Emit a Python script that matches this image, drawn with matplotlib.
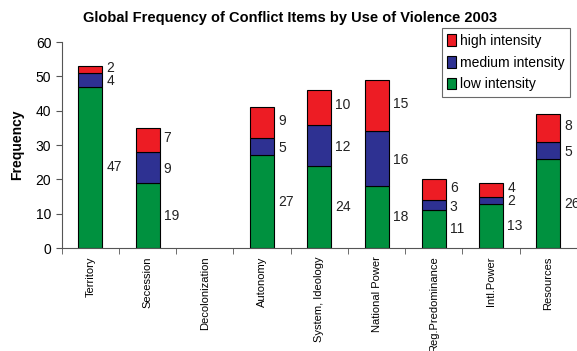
import numpy as np
import matplotlib
matplotlib.use("Agg")
import matplotlib.pyplot as plt
from matplotlib.ticker import FixedLocator

plt.rcParams['font.family'] = ['Liberation Sans', 'DejaVu Sans']

# conflict items 2003
categories = ["Territory", "Secession", "Decolonization", "Autonomy",
              "System, Ideology", "National Power", "Reg.Predominance",
              "Intl.Power", "Resources"]
low = [47, 19, 0, 27, 24, 18, 11, 13, 26]
medium = [4, 9, 0, 5, 12, 16, 3, 2, 5]
high = [2, 7, 0, 9, 10, 15, 6, 4, 8]

c_low = "#00913F"
c_med = "#2E3192"
c_high = "#ED1C24"

fig = plt.figure(figsize=(5.77, 3.51), dpi=100)
ax = fig.add_axes([0.107, 0.293, 0.893, 0.587])

x = np.arange(len(categories))
w = 0.42
low_a = np.array(low)
med_a = np.array(medium)
high_a = np.array(high)
shown = (low_a + med_a + high_a) > 0

ax.bar(x[shown], low_a[shown], w, color=c_low, edgecolor="black", linewidth=0.8,
       label="low intensity")
ax.bar(x[shown], med_a[shown], w, bottom=low_a[shown], color=c_med, edgecolor="black",
       linewidth=0.8, label="medium intensity")
ax.bar(x[shown], high_a[shown], w, bottom=(low_a + med_a)[shown], color=c_high,
       edgecolor="black", linewidth=0.8, label="high intensity")

# value labels to the right of each segment
for i in range(len(categories)):
    if not shown[i]:
        continue
    xt = x[i] + w / 2 + 0.07
    ax.text(xt, low[i] / 2, str(low[i]), va="center", ha="left", fontsize=10, color="#222222")
    ax.text(xt, low[i] + medium[i] / 2 - 0.4, str(medium[i]), va="center", ha="left",
            fontsize=10, color="#222222")
    ax.text(xt, low[i] + medium[i] + high[i] / 2 + 0.6, str(high[i]), va="center", ha="left",
            fontsize=10, color="#222222")

ax.set_xlim(-0.5, len(categories) - 0.5)
ax.set_ylim(0, 60)
ax.set_yticks(range(0, 61, 10))
ax.set_xticks(x)
ax.set_xticklabels(categories, rotation=90, fontsize=8, va="top")
ax.xaxis.set_minor_locator(FixedLocator(np.arange(-0.5, len(categories), 1.0)))
ax.tick_params(axis="x", which="major", length=0, pad=6)
ax.tick_params(axis="x", which="minor", length=4, color="#555555", direction="out")
ax.tick_params(axis="y", labelsize=10, length=4, color="#555555", direction="out")

for s in ["top", "right"]:
    ax.spines[s].set_visible(False)
ax.spines["left"].set_color("#555555")
ax.spines["bottom"].set_color("#555555")

ax.set_ylabel("Frequency", fontsize=10, fontweight="bold", labelpad=8)
fig.text(0.503, 0.95, "Global Frequency of Conflict Items by Use of Violence 2003",
         ha="center", va="center", fontsize=10.5, fontweight="bold")

handles, labels = ax.get_legend_handles_labels()
leg = ax.legend(handles[::-1], labels[::-1], loc="upper right", bbox_to_anchor=(1.0, 1.1),
                fontsize=10, frameon=True, fancybox=False, edgecolor="#444444",
                handlelength=0.6, handleheight=0.9, handletextpad=0.3, borderpad=0.4,
                labelspacing=0.55)
leg.get_frame().set_linewidth(0.8)

fig.savefig("out.png", dpi=100)
